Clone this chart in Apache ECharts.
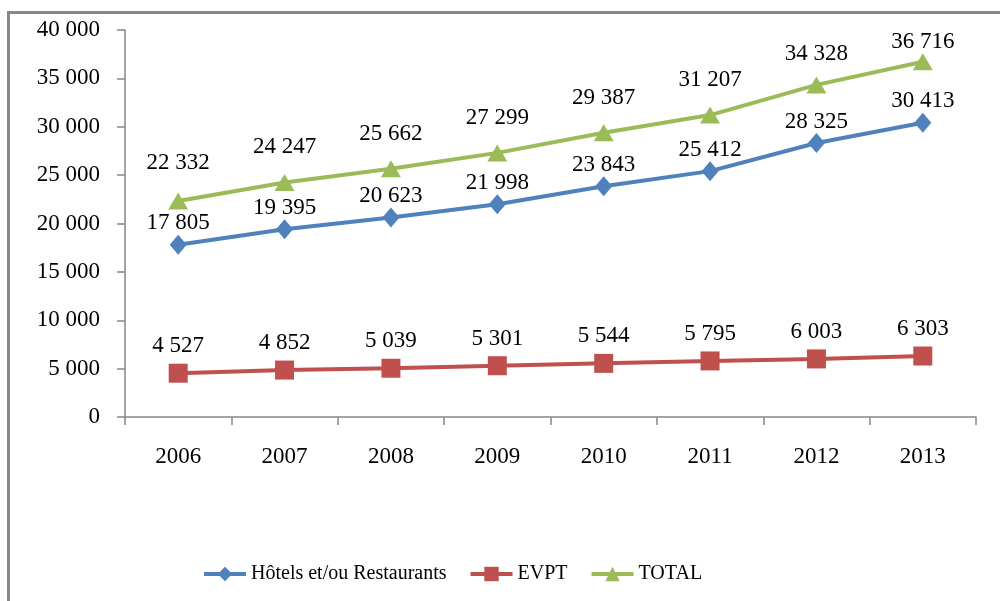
<!DOCTYPE html>
<html>
<head>
<meta charset="utf-8">
<script src="https://cdn.jsdelivr.net/npm/echarts@6/dist/echarts.min.js"></script>
<style>html,body{margin:0;padding:0;background:#fff;}#c{width:1000px;height:601px;}</style>
</head>
<body>
<div id="c"></div>
<script>
const categories = ['2006','2007','2008','2009','2010','2011','2012','2013'];
const hotels = [17805, 19395, 20623, 21998, 23843, 25412, 28325, 30413];
const evpt = [4527, 4852, 5039, 5301, 5544, 5795, 6003, 6303];
const total = [22332, 24247, 25662, 27299, 29387, 31207, 34328, 36716];
const seriesNames = ['Hôtels et/ou Restaurants', 'EVPT', 'TOTAL'];

const FONT = "'Liberation Serif', 'Times New Roman', serif";
const NUM = 23;
const fmt = v => String(v).replace(/\B(?=(\d{3})+(?!\d))/g, ' ');

function mkSeries(name, data, color, symbol, size, dist, overrides) {
  return {
    name, type: 'line', data: data.map((v, i) => {
      const o = overrides && overrides[i];
      return o !== undefined ? { value: v, label: { distance: o } } : v;
    }),
    symbol, symbolSize: size,
    lineStyle: { color, width: 4 },
    itemStyle: { color },
    label: {
      show: true, position: 'top', distance: dist,
      fontFamily: FONT, fontSize: NUM, color: '#000',
      formatter: p => fmt(p.value)
    },
    z: 3
  };
}

const chart = echarts.init(document.getElementById('c'), null, { renderer: 'canvas' });
chart.setOption({
  animation: false,
  backgroundColor: '#fff',
  graphic: [{
    type: 'rect', shape: { x: 8.5, y: 12.5, width: 1000, height: 600 },
    style: { fill: 'none', stroke: '#878787', lineWidth: 3 }, silent: true, z: -1
  }],
  grid: { left: 125, right: 24, top: 30, bottom: 184 },
  legend: {
    bottom: 17, left: 202, padding: 0,
    itemWidth: 42, itemHeight: 18, itemGap: 22,
    lineStyle: { width: 4 },
    textStyle: { fontFamily: FONT, fontSize: 20, color: '#000' },
    data: seriesNames
  },
  xAxis: {
    type: 'category', data: categories, boundaryGap: true,
    axisLine: { lineStyle: { color: '#868686', width: 1.5 } },
    axisTick: { show: true, length: 8, lineStyle: { color: '#868686', width: 1.5 } },
    axisLabel: { fontFamily: FONT, fontSize: NUM, color: '#000', margin: 28 }
  },
  yAxis: {
    type: 'value', min: 0, max: 40000, interval: 5000,
    axisLine: { show: true, lineStyle: { color: '#868686', width: 1.5 } },
    axisTick: { show: true, length: 8, lineStyle: { color: '#868686', width: 1.5 } },
    splitLine: { show: false },
    axisLabel: { fontFamily: FONT, fontSize: NUM, color: '#000', margin: 25, formatter: v => fmt(v) }
  },
  series: [
    mkSeries(seriesNames[0], hotels, '#4F81BD', 'diamond', [17, 20], 0),
    mkSeries(seriesNames[1], evpt, '#C0504D', 'rect', 19, 6),
    mkSeries(seriesNames[2], total, '#9BBB59', 'triangle', [20, 17], 15, { 0: 18, 6: 11, 7: 0 })
  ]
});
</script>
</body>
</html>
